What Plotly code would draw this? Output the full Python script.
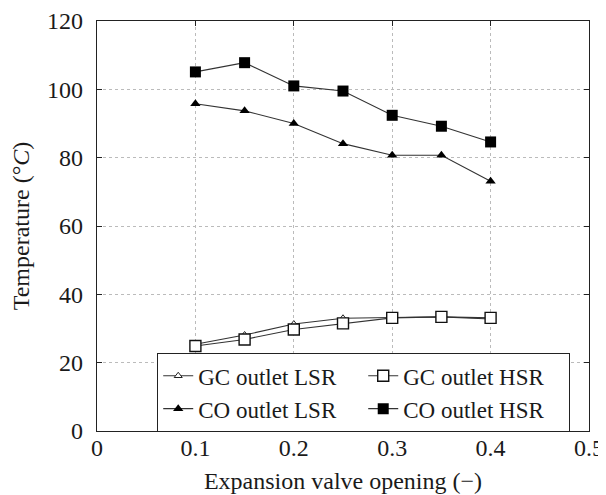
import plotly.graph_objects as go

x_open = [0.1, 0.15, 0.2, 0.25, 0.3, 0.35, 0.4]
gc_lsr = [25.4, 28.1, 31.3, 33.0, 33.2, 33.4, 32.8]
gc_hsr = [24.9, 26.8, 29.7, 31.5, 33.1, 33.4, 33.1]
co_lsr = [95.8, 93.7, 90.0, 84.1, 80.7, 80.7, 73.1]
co_hsr = [105.1, 107.8, 101.0, 99.5, 92.4, 89.2, 84.6]

x_ticks = [0, 0.1, 0.2, 0.3, 0.4, 0.5]
x_ticklabels = ["0", "0.1", "0.2", "0.3", "0.4", "0.5"]
y_ticks = [0, 20, 40, 60, 80, 100, 120]

FONT = "Liberation Serif"
TXT = "#1a1a1a"
LINE = "#333333"

fig = go.Figure()
fig.add_trace(go.Scatter(x=x_open, y=gc_lsr, name="GC outlet LSR", mode="lines+markers",
                         line=dict(color=LINE, width=1.1),
                         marker=dict(symbol="triangle-up", size=7, color="white",
                                     line=dict(color="#222", width=1))))
fig.add_trace(go.Scatter(x=x_open, y=gc_hsr, name="GC outlet HSR", mode="lines+markers",
                         line=dict(color=LINE, width=1.1),
                         marker=dict(symbol="square", size=11, color="white",
                                     line=dict(color="#111", width=1.4))))
fig.add_trace(go.Scatter(x=x_open, y=co_lsr, name="CO outlet LSR", mode="lines+markers",
                         line=dict(color=LINE, width=1.1),
                         marker=dict(symbol="triangle-up", size=9, color="black",
                                     line=dict(color="black", width=0))))
fig.add_trace(go.Scatter(x=x_open, y=co_hsr, name="CO outlet HSR", mode="lines+markers",
                         line=dict(color=LINE, width=1.1),
                         marker=dict(symbol="square", size=11, color="black",
                                     line=dict(color="black", width=0))))

axis_common = dict(showline=True, linecolor="#222", linewidth=1.2, mirror="ticks",
                   ticks="inside", ticklen=5, tickcolor="#222", automargin=False,
                   showgrid=True, gridcolor="#bbbbbb", griddash="dot", gridwidth=1,
                   zeroline=False, tickfont=dict(family=FONT, size=24, color=TXT))

fig.update_xaxes(range=[0, 0.5], tickvals=x_ticks, ticktext=x_ticklabels,
                 ticklabelstandoff=-5,
                 title=dict(text="Expansion valve opening (−)", font=dict(family=FONT, size=24, color=TXT),
                            standoff=12),
                 **axis_common)
fig.update_yaxes(range=[0, 120], tickvals=y_ticks,
                 ticklabelstandoff=8,
                 title=dict(text="Temperature (°<i>C</i>)", font=dict(family=FONT, size=24, color=TXT),
                            standoff=12),
                 **axis_common)

# the page body has an 8px default margin; the figure is sized to fill the rest
fig.update_layout(
    width=598, height=487,
    margin=dict(l=89, r=17, t=13, b=64),
    plot_bgcolor="white", paper_bgcolor="white",
    font=dict(family=FONT, size=23, color=TXT),
    legend=dict(orientation="h", x=0.122, y=0.19, xanchor="left", yanchor="top",
                bgcolor="white", bordercolor="#222", borderwidth=1.2,
                entrywidth=160, entrywidthmode="pixels",
                font=dict(family=FONT, size=23, color=TXT),
                tracegroupgap=0),
)

fig.write_html("out.html")
